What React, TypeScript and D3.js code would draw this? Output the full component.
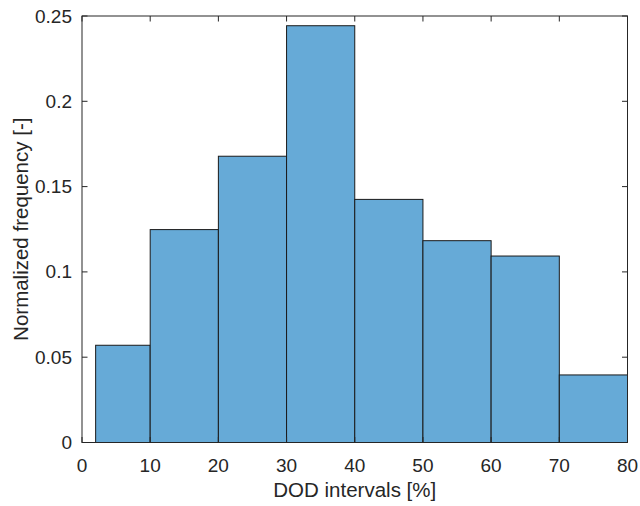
import React from "react";
import * as d3 from "d3";

// Histogram bin edges (DOD %) and normalized frequency per bin
const binEdges = [2, 10, 20, 30, 40, 50, 60, 70, 80];
const frequencies = [0.057, 0.1248, 0.1678, 0.2443, 0.1425, 0.1183, 0.1093, 0.0396];
const xTicks = [0, 10, 20, 30, 40, 50, 60, 70, 80];
const yTicks = [0, 0.05, 0.1, 0.15, 0.2, 0.25];
const xLabel = "DOD intervals [%]";
const yLabel = "Normalized frequency [-]";

const W = 640;
const H = 506;
const left = 82;
const right = 627.5;
const top = 16;
const bottom = 442.5;
const axisColor = "#262626";
const fill = "#66aad7";
const font = "'Liberation Sans', Arial, Helvetica, sans-serif";

export default function App() {
  const x = d3.scaleLinear().domain([0, 80]).range([left, right]);
  const y = d3.scaleLinear().domain([0, 0.25]).range([bottom, top]);
  const tickLen = 5.5;
  const yFmt = (v: number) => d3.format("")(+v.toFixed(2));

  return (
    <svg
      width={W}
      height={H}
      style={{ position: "absolute", left: 0, top: 0, background: "#fff" }}
    >
      <rect x={0} y={0} width={W} height={H} fill="#fff" />
      {/* bars */}
      {frequencies.map((f, i) => (
        <rect
          key={i}
          x={x(binEdges[i])}
          y={y(f)}
          width={x(binEdges[i + 1]) - x(binEdges[i])}
          height={y(0) - y(f)}
          fill={fill}
          stroke="#1a1a1a"
          strokeWidth={1}
        />
      ))}
      {/* axes box */}
      <rect
        x={left}
        y={top}
        width={right - left}
        height={bottom - top}
        fill="none"
        stroke={axisColor}
        strokeWidth={1}
      />
      {/* x ticks */}
      {xTicks.map((t) => (
        <g key={"x" + t}>
          <line x1={x(t)} x2={x(t)} y1={bottom} y2={bottom - tickLen} stroke={axisColor} />
          <line x1={x(t)} x2={x(t)} y1={top} y2={top + tickLen} stroke={axisColor} />
          <text
            x={x(t)}
            y={465}
            textAnchor="middle"
            dominantBaseline="central"
            fontFamily={font}
            fontSize={19}
            fill={axisColor}
          >
            {t}
          </text>
        </g>
      ))}
      {/* y ticks */}
      {yTicks.map((t) => (
        <g key={"y" + t}>
          <line x1={left} x2={left + tickLen} y1={y(t)} y2={y(t)} stroke={axisColor} />
          <line x1={right} x2={right - tickLen} y1={y(t)} y2={y(t)} stroke={axisColor} />
          <text
            x={72}
            y={y(t)}
            textAnchor="end"
            dominantBaseline="central"
            fontFamily={font}
            fontSize={19}
            fill={axisColor}
          >
            {yFmt(t)}
          </text>
        </g>
      ))}
      {/* axis labels */}
      <text
        x={(left + right) / 2}
        y={497}
        textAnchor="middle"
        fontFamily={font}
        fontSize={20.5}
        fill={axisColor}
      >
        {xLabel}
      </text>
      <text
        transform={`translate(20.5, ${(top + bottom) / 2}) rotate(-90)`}
        textAnchor="middle"
        dominantBaseline="central"
        fontFamily={font}
        fontSize={20.5}
        fill={axisColor}
      >
        {yLabel}
      </text>
    </svg>
  );
}
